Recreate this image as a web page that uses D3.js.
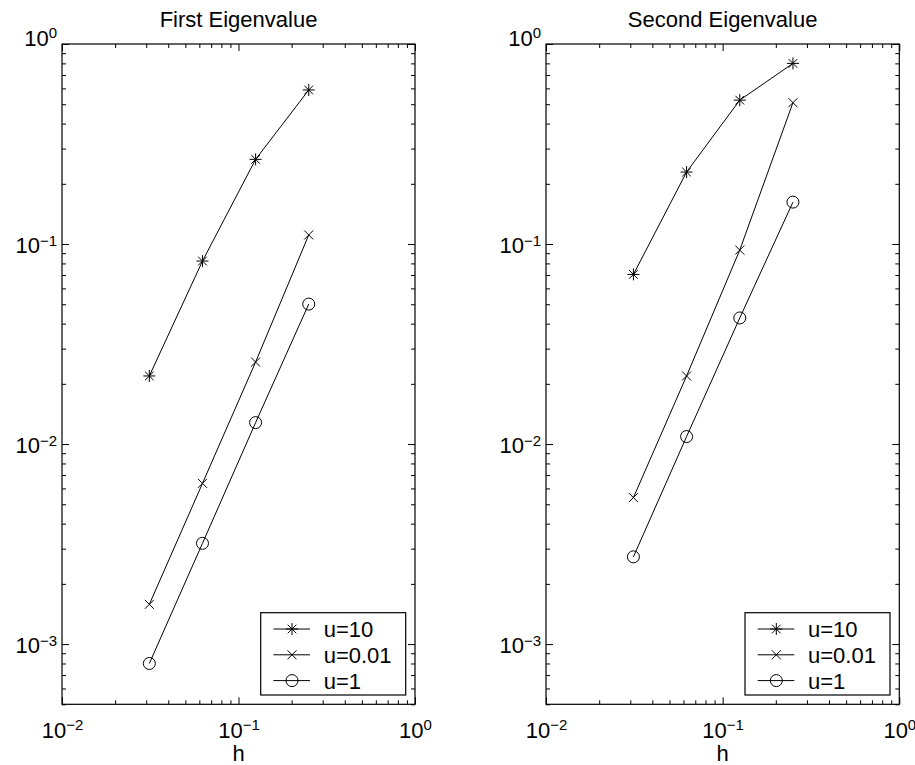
<!DOCTYPE html>
<html>
<head>
<meta charset="utf-8">
<script src="https://cdn.jsdelivr.net/npm/d3@7"></script>
<style>
  html, body { margin: 0; padding: 0; background: #fff; }
  svg { display: block; font-family: "Liberation Sans", Arial, Helvetica, sans-serif; }
</style>
</head>
<body>
<svg id="chart" width="915" height="765"></svg>
<script>
// ---------- data ----------
const hValues = [1/32, 1/16, 1/8, 1/4];
const seriesNames = ["u=10", "u=0.01", "u=1"];
const seriesMarkers = ["star", "cross", "circle"];

const firstU10   = [0.0219, 0.0822, 0.265, 0.589];
const firstU001  = [0.00158, 0.00636, 0.0257, 0.111];
const firstU1    = [0.00080, 0.00319, 0.0128, 0.0501];

const secondU10  = [0.0705, 0.229, 0.524, 0.80];
const secondU001 = [0.0054, 0.0219, 0.0933, 0.509];
const secondU1   = [0.00273, 0.0109, 0.0427, 0.162];

const titles = ["First Eigenvalue", "Second Eigenvalue"];
const xLabel = "h";
const xDomain = [0.01, 1];
const yDomain = [5e-4, 1];
const xMajorTicks = [0.01, 0.1, 1];
const yMajorTicks = [1e-3, 1e-2, 1e-1, 1];

const panelsData = [
  [firstU10, firstU001, firstU1],
  [secondU10, secondU001, secondU1]
];

// ---------- layout ----------
const svg = d3.select("#chart");
const panelX = [[62, 415], [546, 899.3]];
const plotTop = 44, plotBottom = 704.3;
const FS = "22px", SUP = "15px";

function minorTicks(domain) {
  const out = [];
  const lo = Math.floor(Math.log10(domain[0])), hi = Math.ceil(Math.log10(domain[1]));
  for (let e = lo; e < hi; e++) {
    for (let m = 2; m <= 9; m++) {
      const v = m * Math.pow(10, e);
      if (v >= domain[0] * 0.9999 && v <= domain[1] * 1.0001) out.push(v);
    }
  }
  return out;
}

function supLabel(sel, v) {
  const e = Math.round(Math.log10(v));
  sel.text(null);
  sel.append("tspan").text("10");
  sel.append("tspan").attr("dy", "-0.5em").attr("font-size", SUP)
     .text(e < 0 ? "\u2212" + Math.abs(e) : String(e));
}

function drawMarker(g, type, cx, cy) {
  const s = g.append("g").attr("transform", `translate(${cx},${cy})`)
    .attr("stroke", "#000").attr("fill", "none").attr("stroke-width", 1);
  if (type === "star") {
    const r = 6, d = 4.3;
    s.append("line").attr("x1", -r).attr("x2", r).attr("y1", 0).attr("y2", 0);
    s.append("line").attr("x1", 0).attr("x2", 0).attr("y1", -r).attr("y2", r);
    s.append("line").attr("x1", -d).attr("x2", d).attr("y1", -d).attr("y2", d);
    s.append("line").attr("x1", -d).attr("x2", d).attr("y1", d).attr("y2", -d);
  } else if (type === "cross") {
    const d = 4.5;
    s.append("line").attr("x1", -d).attr("x2", d).attr("y1", -d).attr("y2", d);
    s.append("line").attr("x1", -d).attr("x2", d).attr("y1", d).attr("y2", -d);
  } else {
    s.append("circle").attr("r", 6);
  }
}

panelsData.forEach((series, pi) => {
  const [x0, x1] = panelX[pi];
  const x = d3.scaleLog().domain(xDomain).range([x0, x1]);
  const y = d3.scaleLog().domain(yDomain).range([plotBottom, plotTop]);
  const g = svg.append("g");

  const tickStyle = sel => {
    sel.select(".domain").remove();
    sel.selectAll("line").attr("stroke", "#000");
  };

  const xMinor = minorTicks(xDomain), yMinor = minorTicks(yDomain);
  const axB = g.append("g").attr("transform", `translate(0,${plotBottom})`)
    .call(d3.axisBottom(x).tickValues(xMajorTicks).tickSizeInner(-7).tickSizeOuter(0));
  tickStyle(axB);
  axB.selectAll("text").attr("font-size", FS).attr("fill", "#000")
    .attr("dy", "0.71em").attr("y", 18).attr("text-anchor", "middle")
    .each(function(d) { supLabel(d3.select(this), d); });
  g.append("g").attr("transform", `translate(0,${plotBottom})`)
    .call(d3.axisBottom(x).tickValues(xMinor).tickSizeInner(-4).tickSizeOuter(0).tickFormat(""))
    .call(tickStyle);
  g.append("g").attr("transform", `translate(0,${plotTop})`)
    .call(d3.axisTop(x).tickValues(xMajorTicks).tickSizeInner(-7).tickSizeOuter(0).tickFormat(""))
    .call(tickStyle);
  g.append("g").attr("transform", `translate(0,${plotTop})`)
    .call(d3.axisTop(x).tickValues(xMinor).tickSizeInner(-4).tickSizeOuter(0).tickFormat(""))
    .call(tickStyle);

  const axL = g.append("g").attr("transform", `translate(${x0},0)`)
    .call(d3.axisLeft(y).tickValues(yMajorTicks).tickSizeInner(-7).tickSizeOuter(0));
  tickStyle(axL);
  axL.selectAll("text").attr("font-size", FS).attr("fill", "#000")
    .attr("x", -5).attr("dy", d => d === 1 ? "0.05em" : "0.4em").attr("text-anchor", "end")
    .each(function(d) { supLabel(d3.select(this), d); });
  g.append("g").attr("transform", `translate(${x0},0)`)
    .call(d3.axisLeft(y).tickValues(yMinor).tickSizeInner(-4).tickSizeOuter(0).tickFormat(""))
    .call(tickStyle);
  g.append("g").attr("transform", `translate(${x1},0)`)
    .call(d3.axisRight(y).tickValues(yMajorTicks).tickSizeInner(-7).tickSizeOuter(0).tickFormat(""))
    .call(tickStyle);
  g.append("g").attr("transform", `translate(${x1},0)`)
    .call(d3.axisRight(y).tickValues(yMinor).tickSizeInner(-4).tickSizeOuter(0).tickFormat(""))
    .call(tickStyle);

  g.append("rect").attr("x", x0).attr("y", plotTop).attr("width", x1 - x0).attr("height", plotBottom - plotTop)
    .attr("fill", "none").attr("stroke", "#000").attr("stroke-width", 1.2);

  g.append("text").attr("x", (x0 + x1) / 2).attr("y", 27).attr("text-anchor", "middle")
    .attr("font-size", FS).attr("fill", "#000").text(titles[pi]);
  g.append("text").attr("x", (x0 + x1) / 2).attr("y", 761).attr("text-anchor", "middle")
    .attr("font-size", FS).attr("fill", "#000").text(xLabel);

  const line = d3.line().x((d, i) => x(hValues[i])).y(d => y(d));
  series.forEach((vals, si) => {
    g.append("path").datum(vals).attr("d", line)
      .attr("fill", "none").attr("stroke", "#000").attr("stroke-width", 1);
    vals.forEach((v, i) => drawMarker(g, seriesMarkers[si], x(hValues[i]), y(v)));
  });

  const lw = 145, lh = 82.3;
  const lx = x1 - 9.3 - lw, ly = 612.7;
  const lg = g.append("g");
  lg.append("rect").attr("x", lx).attr("y", ly).attr("width", lw).attr("height", lh)
    .attr("fill", "#fff").attr("stroke", "#000").attr("stroke-width", 1.2);
  seriesNames.forEach((name, si) => {
    const ry = ly + 16.3 + si * 25.8;
    lg.append("line").attr("x1", lx + 12.7).attr("x2", lx + 49.3).attr("y1", ry).attr("y2", ry)
      .attr("stroke", "#000").attr("stroke-width", 1);
    drawMarker(lg, seriesMarkers[si], lx + 31.3, ry);
    lg.append("text").attr("x", lx + 63).attr("y", ry).attr("dy", "0.36em")
      .attr("font-size", FS).attr("fill", "#000").text(name);
  });
});
</script>
</body>
</html>
